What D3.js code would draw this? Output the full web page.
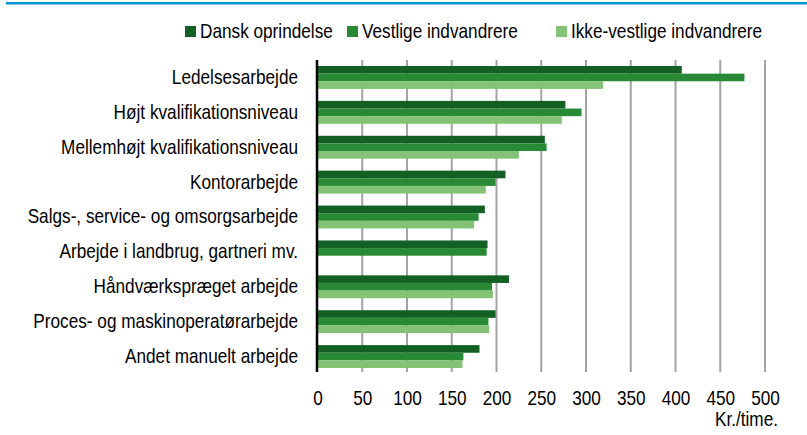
<!DOCTYPE html>
<html>
<head>
<meta charset="utf-8">
<script src="https://cdn.jsdelivr.net/npm/d3@7"></script>
<style>
  html, body { margin: 0; padding: 0; background: #fff; }
  svg text { font-family: "Liberation Sans", Arial, sans-serif; fill: #000; }
</style>
</head>
<body>
<svg id="chart" width="807" height="435"></svg>
<script>
// Hourly earnings (kr./time) by occupation and origin
const categories = [
  "Ledelsesarbejde",
  "Højt kvalifikationsniveau",
  "Mellemhøjt kvalifikationsniveau",
  "Kontorarbejde",
  "Salgs-, service- og omsorgsarbejde",
  "Arbejde i landbrug, gartneri mv.",
  "Håndværkspræget arbejde",
  "Proces- og maskinoperatørarbejde",
  "Andet manuelt arbejde"
];
const seriesNames = ["Dansk oprindelse", "Vestlige indvandrere", "Ikke-vestlige indvandrere"];
const danskOprindelse    = [407, 277, 254, 210, 187, 190, 214, 199, 181];
const vestligeIndvandr   = [477, 295, 256, 199, 180, 189, 195, 191, 163];
const ikkeVestligeIndv   = [319, 273, 225, 188, 175, null, 196, 192, 162];
const xTicks = [0, 50, 100, 150, 200, 250, 300, 350, 400, 450, 500];
const unitLabel = "Kr./time.";

const colors = ["#146024", "#288a34", "#84c375"];
const seriesValues = [danskOprindelse, vestligeIndvandr, ikkeVestligeIndv];

// Text is drawn slightly condensed
const FS = 20;
const SX = 0.86;
const squeeze = `scale(${SX},1)`;

const svg = d3.select("#chart");

// Blue rule across the top
svg.append("rect").attr("x", 6).attr("y", 2).attr("width", 801).attr("height", 2.5).attr("fill", "#0094d2");

const x = d3.scaleLinear().domain([0, 500]).range([317.5, 765]);
const y = d3.scaleBand().domain(categories).range([60, 374]).paddingInner(0.344).paddingOuter(0.172);
const ySub = d3.scaleBand().domain(d3.range(seriesNames.length)).range([0, y.bandwidth()]);

// Vertical gridlines
svg.append("g").selectAll("line").data(xTicks.filter(d => d > 0)).join("line")
  .attr("x1", d => x(d)).attr("x2", d => x(d))
  .attr("y1", 60).attr("y2", 372)
  .attr("stroke", "#a3a3a3").attr("stroke-width", 2);

// Bars
const groups = svg.append("g").selectAll("g").data(categories).join("g")
  .attr("transform", d => `translate(0,${y(d)})`);
groups.selectAll("rect")
  .data((c, i) => seriesValues.map((vals, s) => ({ s, v: vals[i] })).filter(d => d.v != null))
  .join("rect")
  .attr("x", x(0))
  .attr("y", d => ySub(d.s))
  .attr("width", d => x(d.v) - x(0))
  .attr("height", ySub.bandwidth())
  .attr("fill", d => colors[d.s]);

// Value axis along the bottom
const xAxis = svg.append("g").attr("transform", "translate(0,372)")
  .call(d3.axisBottom(x).tickValues(xTicks).tickSize(0).tickPadding(19));
xAxis.select(".domain").remove();
xAxis.selectAll("text").attr("font-size", FS).attr("font-family", null).attr("transform", squeeze);

svg.append("g").attr("transform", "translate(778,426)")
  .append("text").attr("text-anchor", "end").attr("transform", squeeze)
  .attr("font-size", FS).text(unitLabel);

// Category axis
const yAxis = svg.append("g").attr("transform", `translate(${x(0)},0)`)
  .call(d3.axisLeft(y).tickSize(0));
yAxis.select(".domain").remove();
yAxis.selectAll("text").attr("font-size", FS).attr("font-family", null)
  .attr("x", -19.5 / SX).attr("transform", squeeze);

svg.append("line").attr("x1", x(0) - 0.5).attr("x2", x(0) - 0.5).attr("y1", 60).attr("y2", 372)
  .attr("stroke", "#000").attr("stroke-width", 2.5);

// Legend
const legendX = [185, 347, 556];
const legend = svg.append("g").selectAll("g").data(seriesNames).join("g")
  .attr("transform", (d, i) => `translate(${legendX[i]},26)`);
legend.append("rect").attr("width", 11).attr("height", 11).attr("fill", (d, i) => colors[i]);
legend.append("text").attr("x", 15 / SX).attr("y", 11.5).attr("font-size", FS)
  .attr("transform", squeeze).text(d => d);
</script>
</body>
</html>
